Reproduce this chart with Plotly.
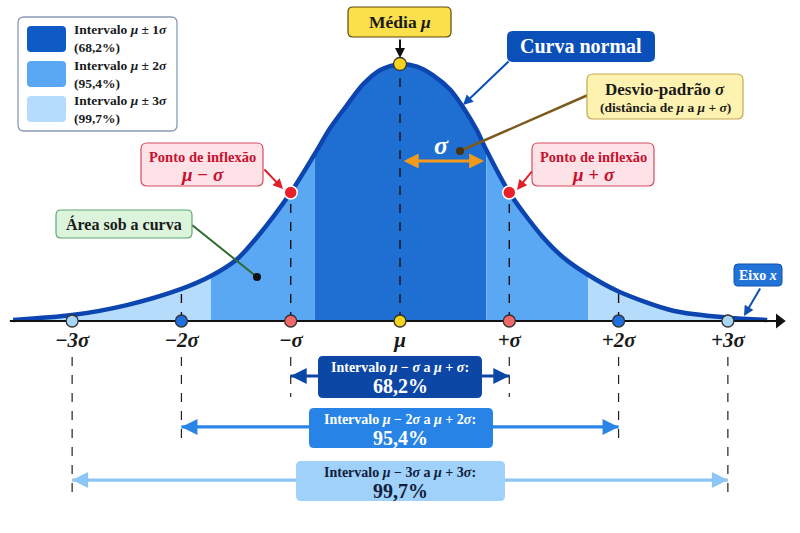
import plotly.graph_objects as go

W, H = 800, 533

# ---------------- data ----------------
# curve sample points: x in sigma units, height relative to the peak
curve_x = [-3.54, -3.0, -2.5, -2.0, -1.73, -1.5, -1.3, -1.0, -0.78, -0.64, -0.485, -0.34, -0.18, 0.0,
           0.155, 0.3, 0.46, 0.58, 0.70, 0.79, 1.0, 1.3, 1.5, 1.72, 2.0, 2.5, 3.0, 3.36]
curve_y = [0.004, 0.023, 0.062, 0.125, 0.175, 0.237, 0.33, 0.50, 0.65, 0.75, 0.84, 0.92, 0.977, 1.0,
           0.99, 0.957, 0.90, 0.83, 0.745, 0.665, 0.50, 0.33, 0.245, 0.18, 0.115, 0.04, 0.013, 0.004]
# shaded bands as drawn: (start, end, level) level 1 = darkest
bands = [(-3.54, -1.73, 3), (-1.73, -0.78, 2), (-0.78, 0.79, 1), (0.79, 1.72, 2), (1.72, 3.36, 3)]
tick_vals = [-3, -2, -1, 0, 1, 2, 3]
tick_text = ["−3σ", "−2σ", "−σ", "μ", "+σ", "+2σ", "+3σ"]
interval_k = [1, 2, 3]
interval_pct = ["68,2%", "95,4%", "99,7%"]
interval_lbl = ["Intervalo <i>μ</i> − <i>σ</i> a <i>μ</i> + <i>σ</i>:",
                "Intervalo <i>μ</i> − 2<i>σ</i> a <i>μ</i> + 2<i>σ</i>:",
                "Intervalo <i>μ</i> − 3<i>σ</i> a <i>μ</i> + 3<i>σ</i>:"]
legend_lbl = ["Intervalo <i>μ</i> ± 1<i>σ</i>", "Intervalo <i>μ</i> ± 2<i>σ</i>", "Intervalo <i>μ</i> ± 3<i>σ</i>"]
legend_pct = ["(68,2%)", "(95,4%)", "(99,7%)"]

# ---------------- styles ----------------
FONT = "Liberation Serif"
band_fill = {1: "#1f6fd2", 2: "#5aa7f3", 3: "#b6dcfb"}
swatch = ["#0e5bc6", "#5aa7f3", "#b6dcfb"]
axis_dot = {3: "#a9d5f7", 2: "#1f6fe0", 1: "#f26868", 0: "#f7d21e"}
row_col = ["#0d47a6", "#2784e6", "#9fd1fa"]
row_arrow = ["#0d47a6", "#2a85e6", "#8cc6f6"]
row_txt = ["white", "white", "#10203a"]
row_y = [-0.214, -0.412, -0.619]           # vertical slot of each interval row
row_box = [(318, 356, 482, 398), (309, 408, 493, 448), (296, 461, 505, 501)]
dash_bottom = [-0.296, -0.49, -0.697]


def P(x, y):
    return f"{x / W:.5f},{1 - y / H:.5f}"


def rrect(x0, y0, x1, y1, r, fill, line=None, lw=1.2):
    path = (f"M {P(x0 + r, y0)} L {P(x1 - r, y0)} Q {P(x1, y0)} {P(x1, y0 + r)} "
            f"L {P(x1, y1 - r)} Q {P(x1, y1)} {P(x1 - r, y1)} L {P(x0 + r, y1)} "
            f"Q {P(x0, y1)} {P(x0, y1 - r)} L {P(x0, y0 + r)} Q {P(x0, y0)} {P(x0 + r, y0)} Z")
    return dict(type="path", path=path, xref="paper", yref="paper", fillcolor=fill,
                line=dict(color=line if line else fill, width=lw if line else 0), layer="above")


def txt(px, py, text, size, color="#1a1a1a", xanchor="center"):
    return dict(x=px / W, y=1 - py / H, xref="paper", yref="paper", text=text, showarrow=False,
                xanchor=xanchor, yanchor="middle", align="left" if xanchor == "left" else "center",
                font=dict(family=FONT, size=size, color=color))


def parrow(hx, hy, tx, ty, color, width=2, head=2, size=1.0):
    return dict(x=hx / W, y=1 - hy / H, xref="paper", yref="paper", text="", showarrow=True,
                ax=tx - hx, ay=ty - hy, arrowhead=head, arrowsize=size, arrowwidth=width,
                arrowcolor=color, standoff=0, startstandoff=0)


def seg(x0, y0, x1, y1, color, width):
    return dict(type="line", x0=x0 / W, y0=1 - y0 / H, x1=x1 / W, y1=1 - y1 / H,
                xref="paper", yref="paper", line=dict(color=color, width=width), layer="above")


def dot(px, py, r, color):
    return dict(type="circle", x0=(px - r) / W, x1=(px + r) / W, y0=1 - (py + r) / H,
                y1=1 - (py - r) / H, xref="paper", yref="paper", fillcolor=color,
                line=dict(color=color, width=0), layer="above")


fig = go.Figure()

# shaded bands under the curve
for a, b, lvl in bands:
    xs = [x for x in curve_x if a <= x <= b]
    ys = [curve_y[curve_x.index(x)] for x in xs]
    fig.add_trace(go.Scatter(x=xs, y=ys, mode="lines", fill="tozeroy",
                             line=dict(width=0, shape="spline", smoothing=0.8),
                             fillcolor=band_fill[lvl], hoverinfo="skip"))

# dashed verticals from axis to curve
for v in [-2, -1, 0, 1, 2]:
    h = curve_y[curve_x.index(float(v))]
    fig.add_trace(go.Scatter(x=[v, v], y=[0, h], mode="lines",
                             line=dict(color="#111111", width=1.4, dash="dash"), hoverinfo="skip"))
# dashed verticals below the axis
for k, yb in zip(interval_k, dash_bottom):
    for s in (-1, 1):
        fig.add_trace(go.Scatter(x=[s * k, s * k], y=[-0.14, yb], mode="lines",
                                 line=dict(color="#222222", width=1.2, dash="dash"), hoverinfo="skip"))

# the curve
fig.add_trace(go.Scatter(x=curve_x, y=curve_y, mode="lines",
                         line=dict(color="#0c45b0", width=4.5, shape="spline", smoothing=0.8),
                         hoverinfo="skip"))

# x axis line with arrow
fig.add_trace(go.Scatter(x=[-3.57, 3.45], y=[0, 0], mode="lines",
                         line=dict(color="#111111", width=2.2), hoverinfo="skip"))
fig.add_trace(go.Scatter(x=[3.47], y=[0], mode="markers",
                         marker=dict(symbol="triangle-right", size=13, color="#111111"), hoverinfo="skip"))

# dots on the axis
fig.add_trace(go.Scatter(x=tick_vals, y=[0] * len(tick_vals), mode="markers",
                         marker=dict(size=12, color=[axis_dot[abs(v)] for v in tick_vals],
                                     line=dict(color="#333333", width=1.3)), hoverinfo="skip"))
# inflection points and peak
fig.add_trace(go.Scatter(x=[-1, 1], y=[curve_y[curve_x.index(-1.0)], curve_y[curve_x.index(1.0)]],
                         mode="markers", marker=dict(size=13, color="#e8202a", line=dict(color="white", width=1.5)),
                         hoverinfo="skip"))
fig.add_trace(go.Scatter(x=[0], y=[max(curve_y)], mode="markers",
                         marker=dict(size=13, color="#f7d21e", line=dict(color="#333333", width=1.3)),
                         hoverinfo="skip"))

# interval arrows (lines; heads added as annotations)
for k, yk, c in zip(interval_k, row_y, row_arrow):
    fig.add_trace(go.Scatter(x=[-k, k], y=[yk, yk], mode="lines", line=dict(color=c, width=3.2),
                             hoverinfo="skip"))

shapes = []
ann = []

# legend box
shapes.append(rrect(18, 17, 177, 131, 6, "white", "#8a9ab8", 1.3))
for i, (c, l, p) in enumerate(zip(swatch, legend_lbl, legend_pct)):
    y0 = 26 + 35 * i
    shapes.append(rrect(27, y0, 66, y0 + 26, 4, c))
    ann.append(txt(72, y0 + 13, f"<b>{l}</b><br><b>{p}</b>", 13.5, "#1a1a1a", "left"))

# Média μ
shapes.append(rrect(348, 7, 451, 37, 5, "#fbe04b", "#5a4a10", 1.2))
ann.append(txt(400, 22, "<b>Média <i>μ</i></b>", 17.5))
ann.append(parrow(400, 58, 400, 38, "#111111", 2, 2, 1.0))

# Curva normal
shapes.append(rrect(507, 31, 655, 62, 6, "#0b4fb8"))
ann.append(txt(581, 46, "<b>Curva normal</b>", 20, "white"))
ann.append(parrow(463, 105, 510, 60, "#0b4fb8", 2, 2, 1.0))

# Desvio-padrão
shapes.append(seg(588, 95, 460, 151, "#7b5a1e", 2.5))
shapes.append(dot(460, 151, 4, "#4a3310"))
shapes.append(rrect(587, 74, 743, 119, 6, "#fdf2b0", "#c4a84a", 1.2))
ann.append(txt(665, 89, "<b>Desvio-padrão <i>σ</i></b>", 17))
ann.append(txt(665, 107, "<b>(distância de <i>μ</i> a <i>μ</i> + <i>σ</i>)</b>", 13.5))

# sigma label and orange arrow
ann.append(txt(441, 145, "<b><i>σ</i></b>", 26, "white"))
ann.append(dict(x=0.77, y=0.623, xref="x", yref="y", ax=0.02, ay=0.623, axref="x", ayref="y",
                text="", showarrow=True, arrowhead=2, startarrowhead=2, arrowside="end+start",
                arrowsize=1.0, arrowwidth=3, arrowcolor="#f39a1e", standoff=0, startstandoff=0))

# inflection labels
for cx, head, tail in [(202, (283, 189), (263, 168)), (593, (517, 190), (533, 170))]:
    shapes.append(rrect(cx - 61, 143, cx + 61, 186, 6, "#fde3e8", "#d94a60", 1.2))
    sign = "−" if cx < 400 else "+"
    ann.append(txt(cx, 157, "<b>Ponto de inflexão</b>", 14.5, "#c8102e"))
    ann.append(txt(cx, 175, f"<b><i>μ</i> {sign} <i>σ</i></b>", 19, "#c8102e"))
    ann.append(parrow(head[0], head[1], tail[0], tail[1], "#e0202a", 2, 2, 1.0))

# Área sob a curva
shapes.append(seg(192, 225, 257, 277, "#2f6a2f", 2))
shapes.append(dot(257, 277, 4, "#111111"))
shapes.append(rrect(56, 210, 192, 238, 5, "#dcf4dc", "#5aa870", 1.2))
ann.append(txt(124, 224, "<b>Área sob a curva</b>", 16))

# Eixo x
shapes.append(rrect(734, 264, 782, 286, 4, "#2273d8", "#1050b0", 1))
ann.append(txt(758, 275, "<b>Eixo <i>x</i></b>", 14, "white"))
ann.append(parrow(744, 316, 761, 287, "#1050b0", 2, 2, 1.0))

# interval boxes and arrowheads
for i, k in enumerate(interval_k):
    x0, y0, x1, y1 = row_box[i]
    shapes.append(rrect(x0, y0, x1, y1, 5, row_col[i]))
    ann.append(txt(400, y0 + 11, f"<b>{interval_lbl[i]}</b>", 14, row_txt[i]))
    ann.append(txt(400, y0 + 30, f"<b>{interval_pct[i]}</b>", 20, row_txt[i]))
    for s in (-1, 1):
        ann.append(dict(x=s * k, y=row_y[i], xref="x", yref="y", ax=-s * 16, ay=0, text="",
                        showarrow=True, arrowhead=2, arrowsize=1.0, arrowwidth=3.2,
                        arrowcolor=row_arrow[i], standoff=0))

fig.update_layout(
    width=W, height=H, margin=dict(l=0, r=0, t=0, b=0),
    paper_bgcolor="white", plot_bgcolor="white", showlegend=False,
    shapes=shapes, annotations=ann,
    xaxis=dict(range=[-3.66, 3.66], tickvals=tick_vals,
               ticktext=[f"<b><i>{t}</i></b>" for t in tick_text],
               tickfont=dict(family=FONT, size=21, color="#1a1a1a"),
               anchor="free", position=1 - 321 / H, showgrid=False, zeroline=False,
               showline=False, ticks="", ticklabelstandoff=4, fixedrange=True),
    yaxis=dict(range=[(321 - H) / 257, 321 / 257], visible=False, fixedrange=True),
)

fig.write_html("out.html", post_script="document.body.style.margin='0';",
               config={"displayModeBar": False})
